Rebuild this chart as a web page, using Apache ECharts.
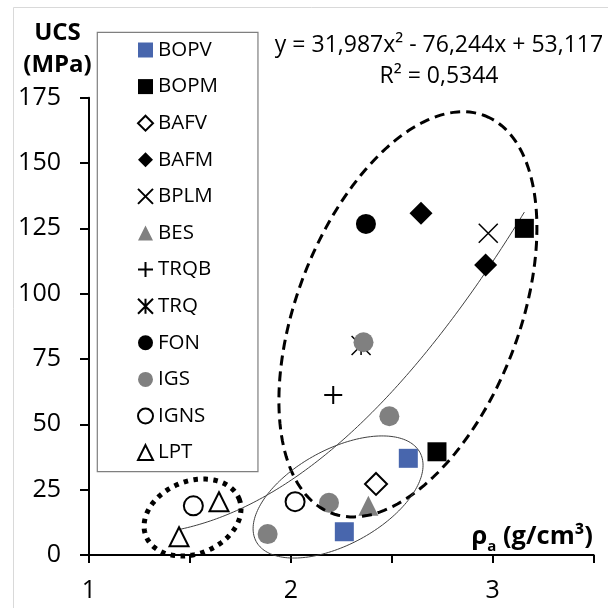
<!DOCTYPE html>
<html><head><meta charset="utf-8">
<script src="https://cdn.jsdelivr.net/npm/echarts@6/dist/echarts.min.js"></script>
<style>html,body{margin:0;padding:0;background:#fff}#c{width:608px;height:608px}</style>
</head><body><div id="c"></div>
<script>
// ---------- data ----------
const seriesNames = ['BOPV','BOPM','BAFV','BAFM','BPLM','BES','TRQB','TRQ','FON','IGS','IGNS','LPT'];
const BOPV = [[2.582, 37.0], [2.265, 8.9]];
const BOPM = [[3.157, 125.0], [2.724, 39.5]];
const BAFV = [[2.422, 27.2]];
const BAFM = [[2.645, 130.8], [2.965, 111.0]];
const BPLM = [[2.978, 123.1]];
const BES  = [[2.384, 18.8]];
const TRQB = [[2.210, 61.2]];
const TRQ  = [[2.348, 80.2]];
const FON  = [[2.372, 126.7]];
const IGS  = [[2.360, 81.4], [2.488, 53.1], [2.189, 20.0], [1.885, 8.0]];
const IGNS = [[2.021, 20.4], [1.517, 18.8]];
const LPT  = [[1.644, 20.4], [1.446, 7.0]];
const xTickLabels = ['1', '2', '3'];
// polynomial trendline printed on the chart: y = a x^2 + b x + c
const trendCoefficients = [31.987, -76.244, 53.117];
const equationText = 'y = 31,987x\u00B2 - 76,244x + 53,117';
const r2Text = 'R\u00B2 = 0,5344';
// annotation ellipses (data units): center, semi-axis vector U, semi-axis vector V
const ellipseCenters = [[2.580, 92.1], [2.234, 22.2], [1.513, 14.35]];
const ellipseU = [[0.3815, 76.0], [0.4057, 17.03], [0.2304, 7.19]];
const ellipseV = [[0.5128, -15.35], [0.1125, -16.0], [0.0674, -12.86]];

// ---------- chart ----------
const FONT = "'Open Sans', sans-serif";
const allData = {BOPV, BOPM, BAFV, BAFM, BPLM, BES, TRQB, TRQ, FON, IGS, IGNS, LPT};
const styles = {
  BOPV: {symbol: 'rect', size: 19, item: {color: '#4866ad'}},
  BOPM: {symbol: 'rect', size: 19, item: {color: '#000'}},
  BAFV: {symbol: 'diamond', size: 22, item: {color: '#fff', borderColor: '#000', borderWidth: 2}},
  BAFM: {symbol: 'diamond', size: 23, item: {color: '#000'}},
  BPLM: {symbol: 'path://M0,0L10,10M10,0L0,10', size: 19, item: {color: '#000', borderColor: '#000', borderWidth: 1.5}},
  BES:  {symbol: 'triangle', size: 20, item: {color: '#808080'}},
  TRQB: {symbol: 'path://M5,0L5,10M0,5L10,5', size: 18, item: {color: '#000', borderColor: '#000', borderWidth: 2}},
  TRQ:  {symbol: 'path://M0,0L10,10M10,0L0,10M5,0L5,10', size: 19, item: {color: '#000', borderColor: '#000', borderWidth: 1.5}},
  FON:  {symbol: 'circle', size: 20, item: {color: '#000'}},
  IGS:  {symbol: 'circle', size: 20, item: {color: '#808080'}},
  IGNS: {symbol: 'circle', size: 19, item: {color: '#fff', borderColor: '#000', borderWidth: 2}},
  LPT:  {symbol: 'triangle', size: 19, item: {color: '#fff', borderColor: '#000', borderWidth: 2}}
};

const scatterSeries = seriesNames.map(n => ({
  name: n, type: 'scatter', data: allData[n],
  symbol: styles[n].symbol, symbolSize: styles[n].size,
  itemStyle: Object.assign({opacity: 1}, styles[n].item),
  z: 3, emphasis: {disabled: true}
}));

let xs = [];
seriesNames.forEach(n => allData[n].forEach(p => xs.push(p[0])));
const xMin = Math.min(...xs), xMax = Math.max(...xs);
const trendData = [];
const N = 120;
for (let i = 0; i <= N; i++) {
  const x = xMin + (xMax - xMin) * i / N;
  const [a, b, c] = trendCoefficients;
  trendData.push([x, a * x * x + b * x + c]);
}

const ellipseStyles = [
  {stroke: '#000', lineWidth: 3, lineDash: [10, 6]},
  {stroke: '#404040', lineWidth: 1},
  {stroke: '#000', lineWidth: 5, lineDash: [4.5, 5.5]}
];

const chart = echarts.init(document.getElementById('c'), null, {renderer: 'canvas'});
chart.setOption({
  backgroundColor: '#fff',
  animation: false,
  textStyle: {fontFamily: FONT},
  grid: {left: 89, right: 14.4, top: 97.7, bottom: 53, containLabel: false},
  xAxis: {
    type: 'value', min: 1, max: 3.5, interval: 0.5,
    axisLine: {lineStyle: {color: '#000', width: 2}},
    axisTick: {inside: false, length: 8, lineStyle: {color: '#000', width: 2}},
    axisLabel: {
      margin: 23, fontSize: 25, lineHeight: 25, color: '#000', fontFamily: FONT,
      formatter: v => (Math.abs(v - Math.round(v)) < 1e-9 && xTickLabels.indexOf(String(Math.round(v))) >= 0) ? String(Math.round(v)) : ''
    },
    splitLine: {show: false}
  },
  yAxis: {
    type: 'value', min: 0, max: 175, interval: 25,
    axisLine: {show: true, lineStyle: {color: '#000', width: 2}},
    axisTick: {show: true, inside: false, length: 9, lineStyle: {color: '#000', width: 2}},
    axisLabel: {margin: 28, fontSize: 25, color: '#000', fontFamily: FONT},
    splitLine: {show: false}
  },
  legend: {
    data: seriesNames,
    orient: 'vertical',
    left: 97.3, top: 32.3,
    padding: [6.7, 40, 8.1, 39.7],
    itemWidth: 15, itemHeight: 15, itemGap: 14.6,
    borderColor: '#7f7f7f', borderWidth: 1.2, backgroundColor: '#fff',
    textStyle: {fontSize: 20.5, lineHeight: 22, color: '#000', fontFamily: FONT},
    selectedMode: false
  },
  series: [
    {
      name: 'trend', type: 'line', data: trendData, showSymbol: false, symbol: 'none',
      lineStyle: {color: '#404040', width: 1}, z: 2, silent: true, smooth: false
    },
    ...scatterSeries,
    {
      name: 'ellipses', type: 'custom', z: 5, silent: true, clip: false,
      data: ellipseCenters.map(c => [c[0], c[1]]),
      renderItem: function (params, api) {
        const i = params.dataIndex;
        const c = ellipseCenters[i], U = ellipseU[i], V = ellipseV[i];
        const pts = [];
        const M = 180;
        for (let k = 0; k < M; k++) {
          const t = 2 * Math.PI * k / M;
          pts.push(api.coord([c[0] + Math.cos(t) * U[0] + Math.sin(t) * V[0],
                              c[1] + Math.cos(t) * U[1] + Math.sin(t) * V[1]]));
        }
        return {type: 'polygon', shape: {points: pts},
          style: Object.assign({fill: 'none', lineCap: 'butt'}, ellipseStyles[i])};
      }
    }
  ],
  graphic: [
    {type: 'rect', silent: true, z: -10, shape: {x: 13.5, y: 7.5, width: 700, height: 700},
     style: {fill: 'none', stroke: '#d9d9d9', lineWidth: 1}},
    {type: 'text', x: 439, y: 45, silent: true,
     style: {text: equationText, font: '23px ' + FONT, fill: '#000', align: 'center', verticalAlign: 'middle', textAlign: 'center', textVerticalAlign: 'middle'}},
    {type: 'text', x: 439, y: 76, silent: true,
     style: {text: r2Text, font: '23px ' + FONT, fill: '#000', align: 'center', verticalAlign: 'middle', textAlign: 'center', textVerticalAlign: 'middle'}},
    {type: 'text', x: 57.5, y: 33, silent: true,
     style: {text: 'UCS', font: 'bold 24px ' + FONT, fill: '#000', align: 'center', verticalAlign: 'middle', textAlign: 'center', textVerticalAlign: 'middle'}},
    {type: 'text', x: 57.5, y: 65, silent: true,
     style: {text: '(MPa)', font: 'bold 24px ' + FONT, fill: '#000', align: 'center', verticalAlign: 'middle', textAlign: 'center', textVerticalAlign: 'middle'}},
    {type: 'text', x: 593, y: 537, silent: true,
     style: {
       text: '{m|\u03C1}{s|a}{m| (g/cm\u00B3)}',
       align: 'right', verticalAlign: 'middle', textAlign: 'right', textVerticalAlign: 'middle',
       rich: {
         m: {fontSize: 25.5, fontWeight: 'bold', fontFamily: FONT, fill: '#000', color: '#000'},
         s: {fontSize: 15, fontWeight: 'bold', fontFamily: FONT, fill: '#000', color: '#000', padding: [20, 0, 0, 0]}
       }
     }}
  ]
});
</script></body></html>
